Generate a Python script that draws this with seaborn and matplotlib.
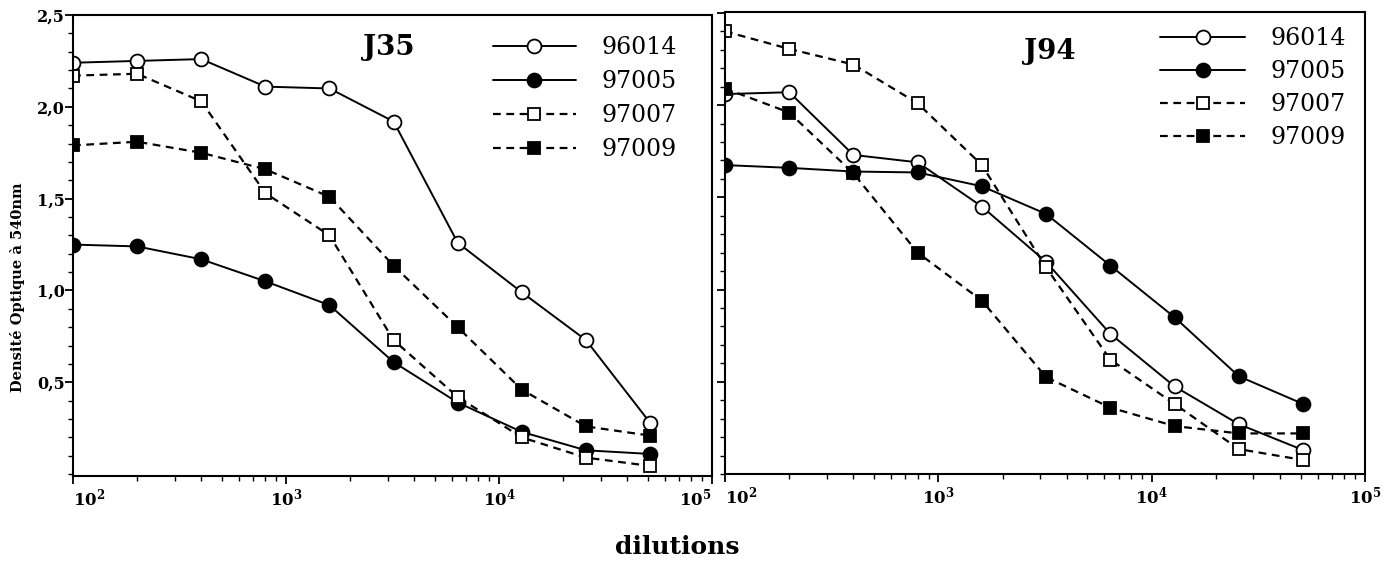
import numpy as np
import pandas as pd
import matplotlib
matplotlib.use("Agg")
import matplotlib.pyplot as plt
import seaborn as sns
from matplotlib.ticker import LogLocator, NullFormatter, MultipleLocator
from matplotlib.lines import Line2D

# Serial dilutions of the sera (1/100 to 1/51200)
dilutions = [100, 200, 400, 800, 1600, 3200, 6400, 12800, 25600, 51200]
sera = ["96014", "97005", "97007", "97009"]
panels = ["J35", "J94"]

# Optical density at 540 nm, day 35
j35_96014 = [2.24, 2.25, 2.26, 2.11, 2.10, 1.92, 1.26, 0.99, 0.73, 0.28]
j35_97005 = [1.25, 1.24, 1.17, 1.05, 0.92, 0.61, 0.39, 0.23, 0.13, 0.11]
j35_97007 = [2.17, 2.18, 2.03, 1.53, 1.30, 0.73, 0.42, 0.20, 0.09, 0.045]
j35_97009 = [1.79, 1.81, 1.75, 1.66, 1.51, 1.135, 0.80, 0.46, 0.26, 0.21]

# Optical density at 540 nm, day 94
j94_96014 = [2.06, 2.07, 1.73, 1.69, 1.45, 1.15, 0.76, 0.475, 0.27, 0.13]
j94_97005 = [1.675, 1.66, 1.64, 1.635, 1.56, 1.41, 1.13, 0.85, 0.53, 0.38]
j94_97007 = [2.40, 2.305, 2.22, 2.01, 1.675, 1.12, 0.62, 0.38, 0.135, 0.076]
j94_97009 = [2.09, 1.96, 1.63, 1.20, 0.94, 0.525, 0.36, 0.26, 0.22, 0.22]

y_ticks = [0.5, 1.0, 1.5, 2.0, 2.5]
y_ticklabels = ["0,5", "1,0", "1,5", "2,0", "2,5"]
x_ticks = [1e2, 1e3, 1e4, 1e5]
x_ticklabels = [r"$\mathbf{10^{2}}$", r"$\mathbf{10^{3}}$", r"$\mathbf{10^{4}}$", r"$\mathbf{10^{5}}$"]

series = {
    "J35": [j35_96014, j35_97005, j35_97007, j35_97009],
    "J94": [j94_96014, j94_97005, j94_97007, j94_97009],
}
rows = []
for panel in panels:
    for serum, vals in zip(sera, series[panel]):
        for d, v in zip(dilutions, vals):
            rows.append({"panel": panel, "serum": serum, "dilution": d, "od": v})
df = pd.DataFrame(rows)

sns.set_style("ticks")
plt.rcParams["font.family"] = ["DejaVu Serif"]
plt.rcParams["mathtext.fontset"] = "dejavuserif"
plt.rcParams["axes.linewidth"] = 1.5
for key in ("text.color", "axes.labelcolor", "xtick.color", "ytick.color", "axes.edgecolor"):
    plt.rcParams[key] = "black"

dash = (0, (3.5, 2.5))
styles = {
    "96014": dict(marker="o", markerfacecolor="white", linestyle="-", linewidth=1.4, markersize=10),
    "97005": dict(marker="o", markerfacecolor="black", linestyle="-", linewidth=1.4, markersize=10),
    "97007": dict(marker="s", markerfacecolor="white", linestyle=dash, linewidth=1.6, markersize=8.5),
    "97009": dict(marker="s", markerfacecolor="black", linestyle=dash, linewidth=1.6, markersize=8.5),
}

W, H = 1393, 565
fig = plt.figure(figsize=(W / 100, H / 100), dpi=100)
ax_l = fig.add_axes([73 / W, 1 - 476 / H, (712 - 73) / W, (476 - 15) / H])
ax_r = fig.add_axes([725 / W, 1 - 474 / H, (1365 - 725) / W, (474 - 12) / H])
axes = {"J35": ax_l, "J94": ax_r}

for panel in panels:
    ax = axes[panel]
    ax.set_xscale("log")
    for serum in sera:
        sub = df[(df.panel == panel) & (df.serum == serum)]
        sns.lineplot(data=sub, x="dilution", y="od", ax=ax, color="black",
                     markeredgecolor="black", markeredgewidth=1.3,
                     errorbar=None, legend=False, **styles[serum])
    ax.set_xlim(100, 1e5)
    ax.set_xticks(x_ticks, labels=x_ticklabels, fontsize=12)
    ax.xaxis.set_minor_locator(LogLocator(base=10, subs=np.arange(2, 10)))
    ax.xaxis.set_minor_formatter(NullFormatter())
    ax.yaxis.set_minor_locator(MultipleLocator(0.1))
    ax.tick_params(axis="both", which="major", direction="out", length=6, width=1.3, pad=2)
    ax.tick_params(axis="both", which="minor", direction="out", length=3.5, width=1.0)
    ax.set_xlabel("")
    ax.set_ylabel("")
    for sp in ax.spines.values():
        sp.set_visible(True)
        sp.set_linewidth(1.5)
        sp.set_color("black")
    # first decade label starts at the axis, so it does not collide with its neighbour
    ax.get_xticklabels()[0].set_horizontalalignment("left")

ax_l.get_xticklabels()[-1].set_horizontalalignment("right")

ax_l.set_ylim(-0.01, 2.5)
ax_l.set_yticks(y_ticks, labels=y_ticklabels, fontsize=11.5, fontweight="bold")
ax_l.tick_params(axis="y", pad=0)
ax_r.set_ylim(0, 2.505)
ax_r.set_yticks(y_ticks, labels=[""] * len(y_ticks))

# Panel titles
ax_l.text(0.494, 0.93, "J35", transform=ax_l.transAxes, ha="center", va="center",
          fontsize=20, fontweight="bold", color="black")
ax_r.text(0.508, 0.914, "J94", transform=ax_r.transAxes, ha="center", va="center",
          fontsize=20, fontweight="bold", color="black")

# Legends
def handles():
    return [Line2D([], [], color="black", markeredgecolor="black", markeredgewidth=1.3,
                   **styles[s]) for s in sera]

ax_l.legend(handles(), sera, loc="upper left", bbox_to_anchor=((493 - 73) / 639, (476 - 36) / 461),
            frameon=False, fontsize=17, handlelength=3.5, handletextpad=1.1,
            labelspacing=0.47, borderpad=0, borderaxespad=0, numpoints=1, labelcolor="black")
ax_r.legend(handles(), sera, loc="upper left", bbox_to_anchor=((1160 - 725) / 640, (474 - 27) / 462),
            frameon=False, fontsize=17, handlelength=3.6, handletextpad=1.06,
            labelspacing=0.43, borderpad=0, borderaxespad=0, numpoints=1, labelcolor="black")

fig.text(18 / W, 1 - 287 / H, "Densité Optique à 540nm", rotation=90, ha="center", va="center",
         fontsize=10.5, fontweight="bold", color="black")
fig.text(677 / W, 1 - 547 / H, "dilutions", ha="center", va="center",
         fontsize=18, fontweight="bold", color="black")

fig.savefig("out.png", dpi=100)
